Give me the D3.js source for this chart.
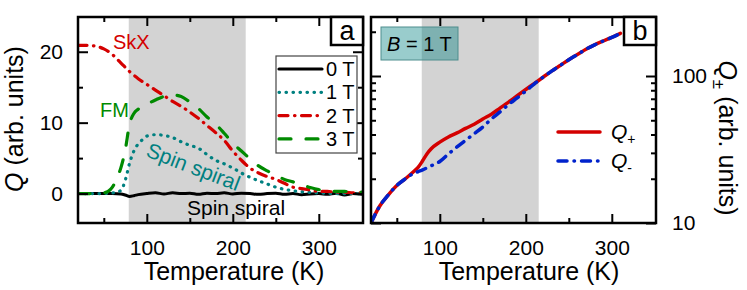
<!DOCTYPE html>
<html>
<head>
<meta charset="utf-8">
<script src="https://cdn.jsdelivr.net/npm/d3@7"></script>
<style>
  body { margin: 0; background: #fff; }
  text { font-family: "Liberation Sans", Arial, sans-serif; }
</style>
</head>
<body>
<div id="chart"></div>
<script>
// Datos
// Panel a: Q frente a temperatura para 0, 1, 2 y 3 T
const temp0T = [20, 30, 40, 50, 60, 70, 75, 80, 85, 90, 100, 110, 120, 130, 140, 150, 160, 170, 180, 190, 200, 210, 220, 230, 240, 250, 260, 270, 280, 290, 300, 310, 320, 330, 340, 350];
const q0T = [0, 0, 0, 0, 0, -0.05, -0.2, -0.4, -0.3, -0.15, 0, 0.1, -0.05, 0.1, 0, 0.05, -0.1, 0.05, 0, 0.1, -0.05, 0.05, 0, -0.1, 0, 0.05, -0.1, 0, -0.15, -0.05, 0, -0.1, 0.05, -0.2, 0, -0.1];

const temp1T = [20, 30, 40, 50, 55, 60, 65, 70, 75, 80, 85, 90, 95, 100, 110, 120, 130, 140, 150, 160, 170, 180, 190, 200, 210, 220, 230, 240, 250, 260, 270, 280, 290, 300, 310, 320, 330, 340, 350];
const q1T = [0, 0, 0, 0, 0.05, 0.1, 0.2, 0.45, 1.9, 4.3, 6.0, 7.0, 7.6, 8.1, 8.3, 8.2, 7.9, 7.3, 6.8, 6.4, 5.5, 4.7, 4.2, 3.6, 2.9, 2.3, 1.8, 1.35, 0.9, 0.6, 0.4, 0.25, 0.15, 0.1, 0.05, 0, 0, 0, 0];

const temp2T = [20, 30, 40, 50, 60, 70, 80, 90, 100, 110, 120, 130, 140, 150, 160, 170, 180, 190, 200, 210, 220, 230, 240, 250, 260, 270, 280, 290, 300, 310, 320, 330, 340, 350];
const q2T = [20.9, 20.9, 20.8, 20.4, 19.6, 18.4, 17.2, 16.2, 15.4, 14.6, 13.8, 13.0, 12.3, 11.5, 10.6, 9.6, 8.6, 7.5, 6.0, 4.7, 3.6, 2.9, 2.4, 2.0, 1.45, 0.9, 0.7, 0.5, 0.3, 0.3, 0.2, 0.2, 0.1, 0.1];

const temp3T = [20, 30, 40, 50, 55, 60, 65, 70, 75, 80, 85, 90, 100, 110, 120, 130, 140, 150, 160, 170, 180, 190, 200, 210, 220, 230, 240, 250, 260, 270, 280, 290, 300, 310, 320, 330, 340, 350];
const q3T = [0, 0, 0, 0.1, 0.3, 0.9, 2.1, 3.7, 6.2, 9.8, 11.3, 11.9, 12.6, 13.2, 13.7, 13.9, 13.7, 12.9, 12.0, 10.8, 9.8, 8.5, 7.1, 6.0, 4.9, 3.9, 3.2, 2.6, 2.0, 1.65, 1.25, 0.85, 0.55, 0.4, 0.3, 0.3, 0.2, 0.2];

// Panel b: Q+ y Q- a B = 1 T (escala log)
const tempPlus = [20, 25, 30, 40, 50, 60, 70, 75, 80, 85, 90, 100, 110, 120, 130, 140, 150, 160, 170, 180, 190, 200, 210, 220, 230, 240, 250, 260, 270, 280, 290, 300, 310];
const qPlus = [10, 11.5, 13, 15.5, 18, 20, 22.5, 24, 26.5, 29.5, 32, 35.5, 38.5, 41, 44, 47, 51, 55, 60.5, 66.5, 73.5, 81, 89, 98, 108, 118, 129, 140, 152, 163, 173, 183, 195];
const tempMinus = [20, 25, 30, 40, 50, 60, 70, 75, 80, 90, 100, 110, 120, 130, 140, 150, 160, 170, 180, 190, 200, 210, 220, 230, 240, 250, 260, 270, 280, 290, 300, 310];
const qMinus = [10, 11.5, 13, 15.5, 18, 20, 21.8, 22.4, 23, 24.5, 26.2, 29.5, 32.9, 36.5, 40.5, 45, 51, 57, 64, 71, 79, 88.5, 98, 108, 118, 129, 140, 152, 163, 173, 183, 195];

// Zona sombreada y ticks
const shadedRange = [79, 215];
const xMajor = [100, 200, 300];
const xMinor = [50, 150, 250];
const yMajorA = [0, 10, 20];
const yMinorA = [5, 15];
const yMajorB = [10, 100];
const yMinorB = [20, 30, 40, 50, 60, 70, 80, 90, 200];

// Definición de constantes
const width = 747;
const height = 290;
const panelA = { left: 78, right: 363, top: 17, bottom: 223 };
const panelB = { left: 371, right: 656, top: 17, bottom: 223 };

const colors = { black: "#000", teal: "#008080", red: "#d40000", green: "#008a00", blue: "#0022cc" };

const svg = d3
  .select("div#chart")
  .append("svg")
  .attr("width", width)
  .attr("height", height);

// Escalas
const xA = d3.scaleLinear().domain([20, 351.4]).range([panelA.left, panelA.right]);
const yA = d3.scaleLinear().domain([-4.15, 24.9]).range([panelA.bottom, panelA.top]);
const xB = d3.scaleLinear().domain([20, 351.4]).range([panelB.left, panelB.right]);
const yB = d3.scaleLog().domain([10, 252]).range([panelB.bottom, panelB.top]);

// Clip paths
const defs = svg.append("defs");
[["clipA", panelA], ["clipB", panelB]].forEach(([id, p]) => {
  defs.append("clipPath").attr("id", id)
    .append("rect")
    .attr("x", p.left).attr("y", p.top)
    .attr("width", p.right - p.left).attr("height", p.bottom - p.top);
});

// Zona gris
const paintShade = (x, p) => {
  svg.append("rect")
    .attr("x", x(shadedRange[0]))
    .attr("y", p.top)
    .attr("width", x(shadedRange[1]) - x(shadedRange[0]))
    .attr("height", p.bottom - p.top)
    .attr("fill", "#d3d3d3");
};
paintShade(xA, panelA);
paintShade(xB, panelB);

// Curvas
const paintCurve = (clip, x, y, temps, values, color, dash, w) => {
  const line = d3.line()
    .x((d) => x(d[0]))
    .y((d) => y(d[1]))
    .curve(d3.curveMonotoneX);
  svg.append("path")
    .datum(temps.map((t, i) => [t, values[i]]))
    .attr("clip-path", `url(#${clip})`)
    .attr("d", line)
    .attr("fill", "none")
    .attr("stroke", color)
    .attr("stroke-width", w)
    .attr("stroke-linecap", "round")
    .attr("stroke-linejoin", "round")
    .attr("stroke-dasharray", dash);
};

const styles = {
  t0: { color: colors.black, dash: null },
  t1: { color: colors.teal, dash: "0.5,6.5" },
  t2: { color: colors.red, dash: "9,6.5,0.5,6.5" },
  t3: { color: colors.green, dash: "12,15" },
};
const dashMinus = "9,7,0.5,7";

paintCurve("clipA", xA, yA, temp0T, q0T, styles.t0.color, styles.t0.dash, 3);
paintCurve("clipA", xA, yA, temp1T, q1T, styles.t1.color, styles.t1.dash, 3.2);
paintCurve("clipA", xA, yA, temp2T, q2T, styles.t2.color, styles.t2.dash, 3.2);
paintCurve("clipA", xA, yA, temp3T, q3T, styles.t3.color, styles.t3.dash, 3.2);

paintCurve("clipB", xB, yB, tempPlus, qPlus, colors.red, null, 3.5);
paintCurve("clipB", xB, yB, tempMinus, qMinus, colors.blue, dashMinus, 3.5);

// Ejes
const addAxis = (axisFn, scale, translate, values, size, labels, padding) => {
  const g = svg.append("g")
    .attr("transform", translate)
    .call(axisFn(scale).tickValues(values).tickSize(-size).tickPadding(padding || 3)
      .tickFormat(labels ? d3.format("d") : ""));
  g.select(".domain").remove();
  g.attr("font-family", null).attr("font-size", 21);
  g.selectAll("line").attr("stroke", "#000").attr("stroke-width", 2);
  g.selectAll("text").attr("fill", "#000");
  return g;
};

const paintAxes = (x, y, p, yMajor, yMinor, yLabelsLeft, yLabelsRight) => {
  const h = p.bottom - p.top;
  addAxis(d3.axisBottom, x, `translate(0,${p.bottom})`, xMajor, 9, true, 17);
  addAxis(d3.axisBottom, x, `translate(0,${p.bottom})`, xMinor, 5, false);
  addAxis(d3.axisTop, x, `translate(0,${p.top})`, xMajor, 9, false);
  addAxis(d3.axisTop, x, `translate(0,${p.top})`, xMinor, 5, false);
  addAxis(d3.axisLeft, y, `translate(${p.left},0)`, yMajor, 10, yLabelsLeft, 15);
  addAxis(d3.axisLeft, y, `translate(${p.left},0)`, yMinor, 5, false);
  addAxis(d3.axisRight, y, `translate(${p.right},0)`, yMajor, 10, yLabelsRight, 16);
  addAxis(d3.axisRight, y, `translate(${p.right},0)`, yMinor, 5, false);
  // Marco
  svg.append("rect")
    .attr("x", p.left).attr("y", p.top)
    .attr("width", p.right - p.left).attr("height", h)
    .attr("fill", "none").attr("stroke", "#000").attr("stroke-width", 2.5);
};
paintAxes(xA, yA, panelA, yMajorA, yMinorA, true, false);
paintAxes(xB, yB, panelB, yMajorB, yMinorB, false, true);

// Títulos de ejes
const axisTitle = (x, y, rotate) =>
  svg.append("text")
    .attr("transform", `translate(${x},${y}) rotate(${rotate})`)
    .attr("text-anchor", "middle")
    .attr("font-size", 25);

axisTitle(234, 280, 0).text("Temperature (K)");
axisTitle(529, 280, 0).text("Temperature (K)");

const titleA = axisTitle(23, 119, -90);
titleA.append("tspan").attr("font-style", "italic").text("Q");
titleA.append("tspan").text(" (arb. units)");

const titleB = axisTitle(719, 138, 90);
titleB.append("tspan").attr("font-style", "italic").text("Q");
titleB.append("tspan").attr("font-size", 17).attr("dy", 6).text("±");
titleB.append("tspan").attr("dy", -6).text(" (arb. units)");

// Etiquetas de panel
const panelLabel = (x, y, w, h, label) => {
  svg.append("rect")
    .attr("x", x).attr("y", y).attr("width", w).attr("height", h)
    .attr("fill", "#fff").attr("stroke", "#000").attr("stroke-width", 2.5);
  svg.append("text")
    .attr("x", x + w / 2).attr("y", y + h / 2 + 9)
    .attr("text-anchor", "middle")
    .attr("font-size", 27)
    .text(label);
};
panelLabel(331, 17, 32, 28, "a");
panelLabel(624, 17, 32, 28, "b");

// Anotaciones panel a
svg.append("text").attr("x", 113).attr("y", 49).attr("font-size", 20)
  .attr("fill", colors.red).text("SkX");
svg.append("text").attr("x", 100).attr("y", 117).attr("font-size", 20)
  .attr("fill", colors.green).text("FM");
svg.append("text").attr("font-size", 21).attr("fill", colors.teal)
  .attr("transform", "translate(145,156) rotate(21)").text("Spin spiral");
svg.append("text").attr("x", 187).attr("y", 215).attr("font-size", 21)
  .attr("fill", "#000").text("Spin spiral");

// Leyenda panel a
const legendA = svg.append("g");
legendA.append("rect")
  .attr("x", 276).attr("y", 56).attr("width", 81).attr("height", 97)
  .attr("fill", "#fff").attr("stroke", "#444").attr("stroke-width", 1.2);
const legendItems = [
  { label: "0 T", style: styles.t0 },
  { label: "1 T", style: styles.t1 },
  { label: "2 T", style: styles.t2 },
  { label: "3 T", style: styles.t3 },
];
legendItems.forEach((d, i) => {
  const ly = 69 + i * 23.3;
  legendA.append("line")
    .attr("x1", 279).attr("x2", 322).attr("y1", ly).attr("y2", ly)
    .attr("stroke", d.style.color).attr("stroke-width", 3.2)
    .attr("stroke-linecap", "round")
    .attr("stroke-dasharray", d.style.dash);
  legendA.append("text")
    .attr("x", 326).attr("y", ly + 7).attr("font-size", 20).text(d.label);
});

// Caja B = 1 T
svg.append("rect")
  .attr("x", 381).attr("y", 27).attr("width", 77).attr("height", 33)
  .attr("fill", "rgba(0,128,128,0.4)").attr("stroke", "#4f8d8d").attr("stroke-width", 1);
const bText = svg.append("text").attr("x", 387).attr("y", 51).attr("font-size", 20);
bText.append("tspan").attr("font-style", "italic").text("B");
bText.append("tspan").text(" = 1 T");

// Leyenda panel b
const legendB = [
  { sub: "+", color: colors.red, dash: null, y: 132 },
  { sub: "-", color: colors.blue, dash: dashMinus, y: 161 },
];
legendB.forEach((d) => {
  svg.append("line")
    .attr("x1", 558).attr("x2", 600).attr("y1", d.y).attr("y2", d.y)
    .attr("stroke", d.color).attr("stroke-width", 3.5)
    .attr("stroke-linecap", "round").attr("stroke-dasharray", d.dash);
  const t = svg.append("text").attr("x", 611).attr("y", d.y + 7).attr("font-size", 21);
  t.append("tspan").attr("font-style", "italic").text("Q");
  t.append("tspan").attr("font-size", 14).attr("dy", 5).text(d.sub);
});
</script>
</body>
</html>
